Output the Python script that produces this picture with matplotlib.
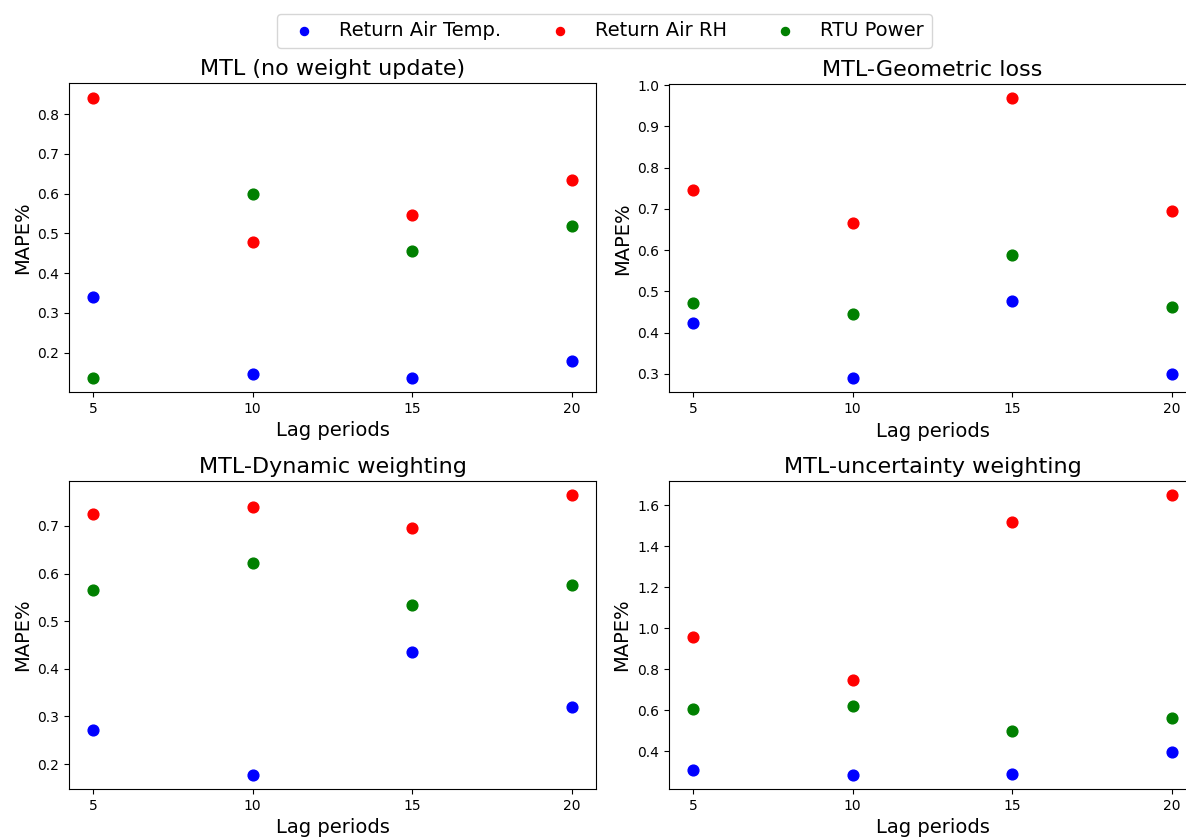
import matplotlib
matplotlib.use("Agg")
import matplotlib.pyplot as plt

lags = [5, 10, 15, 20]
series_names = ["Return Air Temp.", "Return Air RH", "RTU Power"]
series_colors = ["blue", "red", "green"]

titles = ["MTL (no weight update)", "MTL-Geometric loss",
          "MTL-Dynamic weighting", "MTL-uncertainty weighting"]

# MTL (no weight update)
nwu_temp = [0.339, 0.145, 0.136, 0.178]
nwu_rh = [0.842, 0.479, 0.547, 0.635]
nwu_power = [0.136, 0.598, 0.456, 0.518]

# MTL-Geometric loss
geo_temp = [0.424, 0.289, 0.476, 0.301]
geo_rh = [0.745, 0.665, 0.969, 0.694]
geo_power = [0.472, 0.445, 0.588, 0.463]

# MTL-Dynamic weighting
dyn_temp = [0.272, 0.177, 0.435, 0.320]
dyn_rh = [0.725, 0.740, 0.695, 0.765]
dyn_power = [0.566, 0.623, 0.535, 0.575]

# MTL-uncertainty weighting
unc_temp = [0.311, 0.285, 0.288, 0.395]
unc_rh = [0.959, 0.748, 1.517, 1.650]
unc_power = [0.605, 0.620, 0.498, 0.565]

panels = [
    (nwu_temp, nwu_rh, nwu_power),
    (geo_temp, geo_rh, geo_power),
    (dyn_temp, dyn_rh, dyn_power),
    (unc_temp, unc_rh, unc_power),
]

W, H = 1186, 838
fig = plt.figure(figsize=(W / 100, H / 100), dpi=100)

# axes boxes in pixels: (left, top, right, bottom)
boxes = [(69, 83.5, 596, 392), (669, 84, 1196, 392.5),
         (69, 481, 596, 789), (669, 481, 1196, 789)]

handles = []
for i, (box, title, data) in enumerate(zip(boxes, titles, panels)):
    l, t, r, b = box
    ax = fig.add_axes([l / W, 1 - b / H, (r - l) / W, (b - t) / H])
    for vals, name, col in zip(data, series_names, series_colors):
        h = ax.scatter(lags, vals, color=col, s=60, label=name)
        if i == 0:
            handles.append(h)
    ax.set_xticks(lags)
    ax.set_title(title, fontsize=16)
    ax.set_xlabel("Lag periods", fontsize=14)
    ax.set_ylabel("MAPE%", fontsize=14)
    ax.tick_params(labelsize=10)

fig.legend(handles=handles, labels=series_names, loc="center",
           bbox_to_anchor=(604.5 / W, 1 - 31 / H), ncol=3, fontsize=14,
           markerscale=0.75)

fig.savefig("out.png", dpi=100)
